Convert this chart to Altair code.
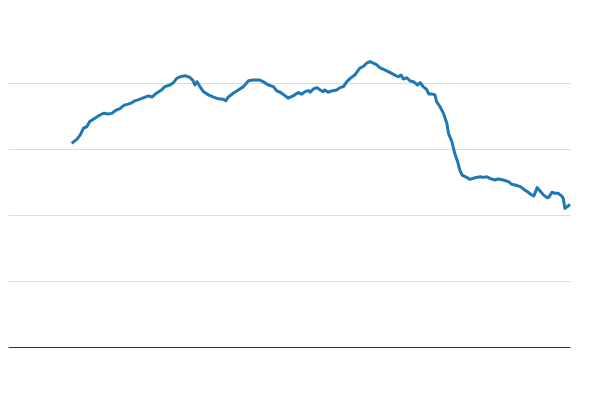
import altair as alt
import pandas as pd

t = [11.8, 12.7, 13.3, 13.9, 14.5, 15.0, 15.9, 16.8, 17.4, 18.3, 18.9, 19.5, 20.4, 21.1, 21.8,
     22.4, 23.0, 23.9, 24.8, 25.4, 26.0, 26.8, 27.7, 28.3, 29.2, 29.8, 30.4, 31.0, 31.9, 32.7,
     33.3, 33.6, 34.0, 34.5, 35.1, 36.0, 36.9, 37.8, 38.6, 39.1, 39.5, 40.4, 41.3, 42.2, 43.1,
     43.9, 45.1, 46.0, 46.6, 47.5, 48.1, 48.7, 49.4, 50.1, 51.0, 51.9, 52.5, 53.1, 53.7, 54.0,
     54.6, 55.2, 55.8, 56.3, 56.6, 57.2, 57.8, 58.7, 59.3, 59.9, 60.5, 61.1, 61.9, 62.8, 63.4,
     64.0, 64.6, 65.2, 65.8, 66.4, 67.3, 68.1, 69.0, 69.6, 70.1, 70.5, 71.1, 71.7, 72.3, 73.0,
     73.5, 74.0, 74.6, 75.0, 75.5, 76.1, 76.4, 77.0, 77.6, 78.2, 78.5, 79.1, 79.6, 80.1, 80.5,
     80.9, 81.7, 82.3, 83.2, 84.1, 84.7, 85.3, 85.8, 86.7, 87.3, 88.2, 89.1, 89.7, 90.3, 91.2,
     92.0, 92.6, 93.2, 93.6, 94.2, 94.7, 95.3, 96.0, 96.3, 96.8, 97.3, 97.9, 98.5, 98.8, 99.1,
     99.5, 100.0]
values = [61.7, 62.9, 64.2, 66.3, 66.8, 68.3, 69.3, 70.3, 70.8, 70.6, 70.8, 71.6, 72.3, 73.3, 73.6,
          74.0, 74.6, 75.1, 75.7, 76.1, 75.7, 76.9, 77.9, 78.9, 79.4, 80.1, 81.4, 81.9, 82.2, 81.7,
          80.7, 79.4, 80.4, 78.9, 77.4, 76.4, 75.7, 75.2, 75.1, 74.6, 75.7, 76.9, 77.9, 78.9, 80.7,
          80.9, 80.9, 80.1, 79.4, 78.9, 77.6, 77.2, 76.4, 75.4, 76.1, 77.1, 76.6, 77.4, 77.7, 77.2,
          78.2, 78.6, 77.9, 77.4, 77.9, 77.2, 77.6, 77.9, 78.6, 78.9, 80.4, 81.4, 82.4, 84.5, 85.0,
          86.0, 86.5, 86.0, 85.5, 84.6, 83.9, 83.2, 82.4, 81.9, 82.4, 81.2, 81.6, 80.6, 80.4, 79.4,
          80.1, 78.9, 78.1, 76.7, 76.7, 76.4, 74.3, 72.8, 70.8, 67.8, 64.7, 62.2, 58.7, 56.2, 53.6,
          52.1, 51.4, 50.8, 51.3, 51.6, 51.4, 51.6, 51.1, 50.6, 50.9, 50.6, 50.1, 49.3, 49.1, 48.6,
          47.6, 46.9, 46.1, 45.8, 48.3, 47.3, 46.1, 45.2, 45.5, 46.9, 46.6, 46.6, 45.8, 45.1, 42.0,
          42.5, 43.2]
grid_values = [20, 40, 60, 80]

df = pd.DataFrame({"t": t, "value": values})

chart = alt.Chart(df).mark_line(color="#1f77b4", strokeWidth=3, strokeJoin="round").encode(
    x=alt.X("t:Q", scale=alt.Scale(domain=[0.53, 100], nice=False, zero=False),
            axis=alt.Axis(labels=False, ticks=False, grid=False, title=None,
                          domain=True, domainColor="#333333", domainWidth=1)),
    y=alt.Y("value:Q", scale=alt.Scale(domain=[0, 100], nice=False),
            axis=alt.Axis(labels=False, ticks=False, domain=False, title=None,
                          values=grid_values, grid=True, gridColor="#dddddd", gridWidth=1)),
).properties(
    width=562, height=330,
    padding={"left": 0, "top": 9, "right": 5, "bottom": 10},
).configure_view(strokeWidth=0)

chart.save("out.html", embed_options={"renderer": "svg", "actions": False})
